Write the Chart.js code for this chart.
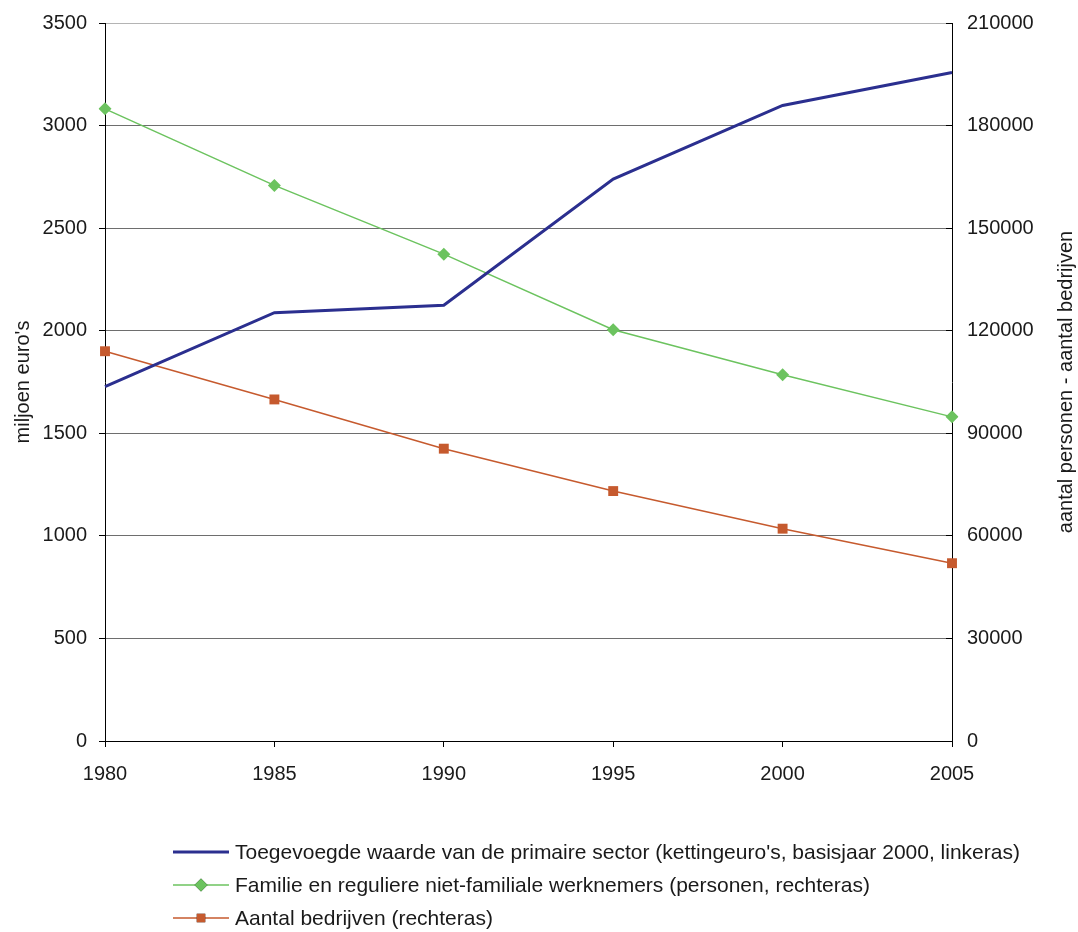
<!DOCTYPE html>
<html>
<head>
<meta charset="utf-8">
<script src="https://cdn.jsdelivr.net/npm/chart.js@4/dist/chart.umd.min.js"></script>
<style>
  html, body { margin: 0; padding: 0; background: #ffffff; }
  #wrap { width: 1078px; height: 932px; }
</style>
</head>
<body>
<div id="wrap"><canvas id="c" width="1078" height="932"></canvas></div>
<script>
// Years on the horizontal axis
const years = ['1980', '1985', '1990', '1995', '2000', '2005'];

// Value added of the primary sector (million euro, chained, base year 2000) - left axis
const toegevoegdeWaarde = [1727, 2088, 2124, 2739, 3098, 3259];

// Family and regular non-family workers (persons) - right axis
const werknemers = [184900, 162500, 142400, 120300, 107100, 94800];

// Number of holdings - right axis
const bedrijven = [114000, 99900, 85500, 73100, 62100, 52000];

// Series labels
const seriesLabels = [
  "Toegevoegde waarde van de primaire sector (kettingeuro's, basisjaar 2000, linkeras)",
  "Familie en reguliere niet-familiale werknemers (personen, rechteras)",
  "Aantal bedrijven (rechteras)"
];

const leftTitle = "miljoen euro's";
const rightTitle = "aantal personen - aantal bedrijven";

const FONT = "'Liberation Sans', Arial, Helvetica, sans-serif";
const TEXT = '#1a1a1a';

// Plain integers on the value axes, no thousands separator
const plainNumber = (v) => String(v);

// Right-axis title reads bottom-to-top, like the left one
const rightTitlePlugin = {
  id: 'rightTitle',
  afterDraw(chart) {
    const {ctx, chartArea} = chart;
    const y = (chartArea.top + chartArea.bottom) / 2;
    ctx.save();
    ctx.translate(1066, y);
    ctx.rotate(-Math.PI / 2);
    ctx.font = '20px ' + FONT;
    ctx.fillStyle = TEXT;
    ctx.textAlign = 'center';
    ctx.textBaseline = 'middle';
    ctx.fillText(rightTitle, 0, 0);
    ctx.restore();
  }
};

// Stacked legend below the plot, one series per row
const stackedLegendPlugin = {
  id: 'stackedLegend',
  afterDraw(chart) {
    const {ctx} = chart;
    const x0 = 173, x1 = 229, textX = 235;
    const rows = [852, 885, 918];
    chart.data.datasets.forEach((ds, i) => {
      const y = rows[i];
      ctx.save();
      ctx.strokeStyle = ds.borderColor;
      ctx.lineWidth = ds.borderWidth;
      ctx.beginPath();
      ctx.moveTo(x0, y);
      ctx.lineTo(x1, y);
      ctx.stroke();
      if (ds.pointRadius > 0) {
        Chart.helpers.drawPoint(ctx, {
          pointStyle: ds.pointStyle,
          radius: ds.pointStyle === 'rect' ? 6 : 6.5,
          borderWidth: 0,
          rotation: 0
        }, (x0 + x1) / 2, y);
        ctx.fillStyle = ds.pointBackgroundColor;
        ctx.fill();
      }
      ctx.fillStyle = TEXT;
      ctx.font = '21px ' + FONT;
      ctx.textAlign = 'left';
      ctx.textBaseline = 'middle';
      ctx.fillText(ds.label, textX, y + 1);
      ctx.restore();
    });
  }
};

// Fixed axis widths; the plot top is set by the layout padding alone
const fixVertical = (w) => (scale) => {
  scale.width = w;
  scale.paddingTop = 0;
  scale.paddingBottom = 0;
};

new Chart(document.getElementById('c'), {
  type: 'line',
  data: {
    labels: years,
    datasets: [
      {
        label: seriesLabels[0],
        data: toegevoegdeWaarde,
        yAxisID: 'yLeft',
        borderColor: '#2b2f8f',
        backgroundColor: '#2b2f8f',
        borderWidth: 3,
        pointRadius: 0,
        tension: 0
      },
      {
        label: seriesLabels[1],
        data: werknemers,
        yAxisID: 'yRight',
        borderColor: '#6cc35f',
        backgroundColor: '#6cc35f',
        pointBackgroundColor: '#6cc35f',
        pointBorderColor: '#6cc35f',
        borderWidth: 1.5,
        pointStyle: 'rectRot',
        pointRadius: 6.5,
        pointBorderWidth: 0,
        tension: 0
      },
      {
        label: seriesLabels[2],
        data: bedrijven,
        yAxisID: 'yRight',
        borderColor: '#c65a2e',
        backgroundColor: '#c65a2e',
        pointBackgroundColor: '#c65a2e',
        pointBorderColor: '#c65a2e',
        borderWidth: 1.5,
        pointStyle: 'rect',
        pointRadius: 7,
        pointBorderWidth: 0,
        tension: 0
      }
    ]
  },
  options: {
    responsive: false,
    animation: false,
    layout: { padding: { top: 23, left: 0, right: 0, bottom: 0 } },
    plugins: {
      legend: { display: false },
      tooltip: { enabled: false }
    },
    scales: {
      x: {
        type: 'category',
        offset: false,
        border: { display: true, color: '#000000', width: 1 },
        grid: { drawOnChartArea: false, drawTicks: true, tickLength: 6, tickColor: '#000000' },
        ticks: { color: TEXT, font: { family: FONT, size: 20 }, padding: 15, maxRotation: 0 },
        afterFit(scale) { scale.height = 191; }
      },
      yLeft: {
        position: 'left',
        min: 0,
        max: 3500,
        border: { display: true, color: '#000000', width: 1 },
        grid: {
          color: (ctx) => (ctx.tick && ctx.tick.value === 3500 ? '#b4b4b4' : '#6e6e6e'),
          tickColor: '#000000',
          tickLength: 6,
          lineWidth: 1
        },
        ticks: { stepSize: 500, color: TEXT, font: { family: FONT, size: 20 }, padding: 12, callback: plainNumber },
        title: { display: true, text: leftTitle, color: TEXT, font: { family: FONT, size: 20 }, padding: { top: 11, bottom: 0 } },
        afterFit: fixVertical(105)
      },
      yRight: {
        position: 'right',
        min: 0,
        max: 210000,
        border: { display: true, color: '#000000', width: 1 },
        grid: { drawOnChartArea: false, drawTicks: true, tickLength: -6, tickColor: '#000000' },
        ticks: { stepSize: 30000, color: TEXT, font: { family: FONT, size: 20 }, padding: 21, callback: plainNumber },
        afterFit: fixVertical(126)
      }
    }
  },
  plugins: [rightTitlePlugin, stackedLegendPlugin]
});
</script>
</body>
</html>
